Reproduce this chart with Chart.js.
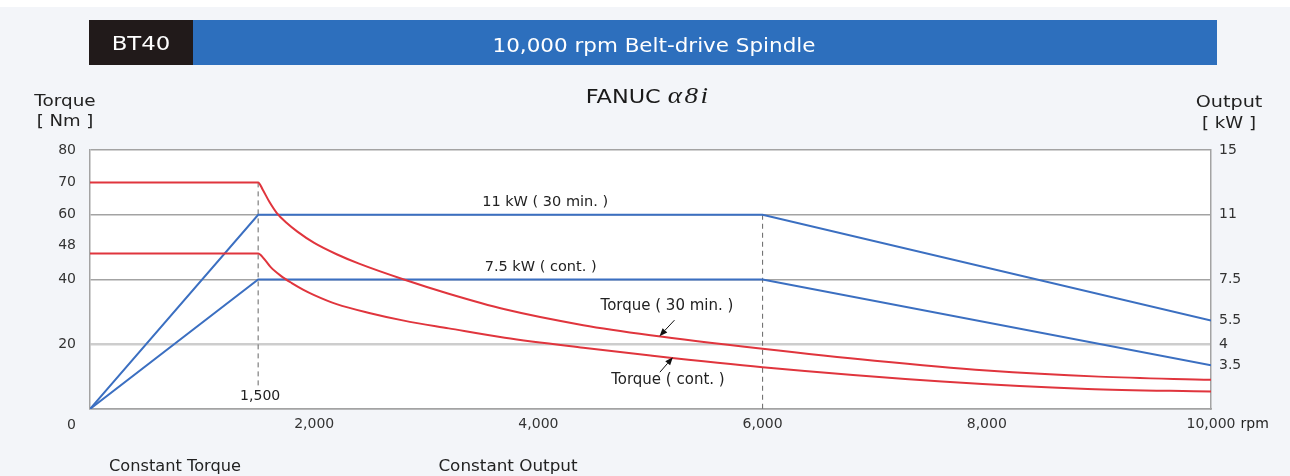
<!DOCTYPE html>
<html lang="en">
<head>
<meta charset="utf-8">
<title>BT40 10,000 rpm Belt-drive Spindle</title>
<script src="https://cdn.jsdelivr.net/npm/chart.js@4.4.1/dist/chart.umd.min.js"></script>
<style>
  html, body { margin:0; padding:0; }
  body { width:1290px; height:476px; background:#f3f5f9; position:relative; overflow:hidden; font-family:'DejaVu Sans', sans-serif; }
  #strip { position:absolute; left:0; top:0; width:1290px; height:7px; background:#ffffff; }
  #cv { position:absolute; left:0; top:0; }
  .box { position:absolute; }
  .t { position:absolute; white-space:nowrap; line-height:1; color:#222; transform-origin:50% 50%; }
  .alpha { font-family:'Liberation Serif', serif; font-style:italic; font-size:23px; letter-spacing:2px; }
</style>
</head>
<body>
<div id="strip"></div>
<div class="box" style="left:89px;top:20px;width:104px;height:45px;background:#211a1a"></div>
<div class="box" style="left:193px;top:20px;width:1024px;height:45px;background:#2d6fbd"></div>
<canvas id="cv" width="1290" height="476"></canvas>

<div class="t" style="left:141px;top:43px;font-size:19px;color:#fff;transform:translate(-50%,-50%) scaleX(1.2)">BT40</div>
<div class="t" style="left:654px;top:45px;font-size:19px;color:#fff;transform:translate(-50%,-50%) scaleX(1.13)">10,000 rpm Belt-drive Spindle</div>
<div class="t" style="left:648px;top:95px;font-size:19px;color:#1a1a1a;transform:translate(-50%,-50%) scaleX(1.18)">FANUC <span class="alpha">α8i</span></div>
<div class="t" style="left:65px;top:101px;font-size:16px;transform:translate(-50%,-50%) scaleX(1.15)">Torque</div>
<div class="t" style="left:65px;top:121px;font-size:16px;transform:translate(-50%,-50%) scaleX(1.13)">[ Nm ]</div>
<div class="t" style="left:1229px;top:102px;font-size:16px;transform:translate(-50%,-50%) scaleX(1.2)">Output</div>
<div class="t" style="left:1229px;top:123px;font-size:16px;transform:translate(-50%,-50%) scaleX(1.13)">[ kW ]</div>
<div class="t" style="left:175px;top:466px;font-size:15px;transform:translate(-50%,-50%) scaleX(1.08)">Constant Torque</div>
<div class="t" style="left:508px;top:466px;font-size:15px;transform:translate(-50%,-50%) scaleX(1.12)">Constant Output</div>

<script>
// ---------------- data ----------------
const rpmTorque30   = [0, 1500, 1540, 1600, 1665, 1750, 1850, 2000, 2200, 2400, 2800, 3200, 3700, 4400, 5000, 6000, 7000, 8000, 9000, 10000];
const torque30      = [70, 70, 67.8, 64.0, 60.6, 57.6, 54.8, 51.3, 47.8, 44.9, 40.0, 35.6, 30.8, 25.9, 22.8, 18.6, 14.9, 11.9, 10.0, 9.0];
const rpmTorqueCont = [0, 1500, 1550, 1610, 1700, 1800, 1900, 2000, 2200, 2500, 2800, 3200, 3700, 4400, 5000, 6000, 7600, 8900, 10000];
const torqueCont    = [48, 48, 46.5, 43.9, 41.2, 38.9, 36.9, 35.2, 32.4, 29.6, 27.3, 24.9, 22.0, 18.9, 16.5, 12.9, 8.5, 6.2, 5.4];
const rpmPower      = [0, 1500, 6000, 10000];
const power30       = [0, 11, 11, 5.5];
const powerCont     = [0, 7.5, 7.5, 3.5];

const xTickValues      = [2000, 4000, 6000, 8000, 10000];
const xTickLabels      = ['2,000', '4,000', '6,000', '8,000', '10,000'];
const xUnit            = 'rpm';
const torqueTickValues = [0, 20, 40, 48, 60, 70, 80];
const torqueTickLabels = ['0', '20', '40', '48', '60', '70', '80'];
const torqueGridValues = [0, 20, 40, 60, 80];
const powerTickValues  = [3.5, 4, 5.5, 7.5, 11, 15];
const powerTickLabels  = ['3.5', '4', '5.5', '7.5', '11', '15'];
// output axis of the original is not linear: kW value -> matching torque grid level
const powerAxisMap     = [[0, 0], [3.5, 13.5], [4, 20], [5.5, 27.3], [7.5, 40], [11, 60], [15, 80]];
const cornerRpm        = [1500, 6000];
const cornerLabel      = '1,500';
const labelPower30     = '11 kW ( 30 min. )';
const labelPowerCont   = '7.5 kW ( cont. )';
const labelTorque30    = 'Torque ( 30 min. )';
const labelTorqueCont  = 'Torque ( cont. )';

// ---------------- style ----------------
const RED = '#e0353d', BLUE = '#3b6fc1', GRID = '#a3a3a3', TXT = '#333333', FONT = "'DejaVu Sans', sans-serif";

// ---------------- piecewise output scale ----------------
function mapPiece(v, from, to) {
  const m = powerAxisMap;
  for (let i = 1; i < m.length; i++) {
    const a = m[i - 1], b = m[i];
    if (v <= b[from] || i === m.length - 1) {
      return a[to] + (v - a[from]) * (b[to] - a[to]) / (b[from] - a[from]);
    }
  }
  return v;
}
class PowerScale extends Chart.LinearScale {
  static id = 'powerScale';
  static defaults = {};
  getPixelForValue(value) {
    if (value === null || value === undefined || isNaN(value)) return NaN;
    const top = powerAxisMap[powerAxisMap.length - 1][1];
    return this.getPixelForDecimal(mapPiece(value, 0, 1) / top);
  }
  getValueForPixel(pixel) {
    const top = powerAxisMap[powerAxisMap.length - 1][1];
    return mapPiece(this.getDecimalForPixel(pixel) * top, 1, 0);
  }
}
Chart.register(PowerScale);

const pts = (xs, ys) => xs.map((x, i) => ({ x: x, y: ys[i] }));

function drawText(ctx, text, x, y, size, align) {
  ctx.save();
  ctx.font = size + 'px ' + FONT;
  ctx.fillStyle = '#222';
  ctx.textAlign = align || 'center';
  ctx.textBaseline = 'middle';
  ctx.fillText(text, x, y);
  ctx.restore();
}
function drawArrow(ctx, x1, y1, x2, y2) {
  ctx.save();
  ctx.strokeStyle = '#111'; ctx.fillStyle = '#111'; ctx.lineWidth = 1;
  const ang = Math.atan2(y2 - y1, x2 - x1), L = 8, W = 3.2;
  const bx = x2 - L * Math.cos(ang), by = y2 - L * Math.sin(ang);
  ctx.beginPath(); ctx.moveTo(x1, y1); ctx.lineTo(bx, by); ctx.stroke();
  ctx.beginPath();
  ctx.moveTo(x2, y2);
  ctx.lineTo(bx + W * Math.sin(ang), by - W * Math.cos(ang));
  ctx.lineTo(bx - W * Math.sin(ang), by + W * Math.cos(ang));
  ctx.closePath(); ctx.fill();
  ctx.restore();
}

const overlay = {
  id: 'overlay',
  beforeDraw(chart) {
    const { ctx, chartArea: a } = chart;
    ctx.save(); ctx.fillStyle = '#ffffff';
    ctx.fillRect(a.left, a.top, a.right - a.left, a.bottom - a.top);
    ctx.restore();
  },
  beforeDatasetsDraw(chart) {
    const { ctx, chartArea: a, scales } = chart;
    ctx.save();
    ctx.strokeStyle = '#666666'; ctx.lineWidth = 1; ctx.setLineDash([5, 4]);
    const x1 = scales.x.getPixelForValue(cornerRpm[0]);
    ctx.beginPath(); ctx.moveTo(x1, scales.y.getPixelForValue(torque30[1])); ctx.lineTo(x1, a.bottom - 21); ctx.stroke();
    const x2 = scales.x.getPixelForValue(cornerRpm[1]);
    ctx.beginPath(); ctx.moveTo(x2, scales.y2.getPixelForValue(power30[2])); ctx.lineTo(x2, a.bottom); ctx.stroke();
    ctx.restore();
  },
  afterDatasetsDraw(chart) {
    const { ctx, chartArea: a, scales } = chart;
    const xs = scales.x, ys = scales.y, ps = scales.y2;
    drawText(ctx, cornerLabel, xs.getPixelForValue(cornerRpm[0]) + 2, a.bottom - 13, 14);
    drawText(ctx, labelPower30, xs.getPixelForValue(4060), ps.getPixelForValue(power30[1]) - 12.5, 14.5);
    drawText(ctx, labelPowerCont, xs.getPixelForValue(4020), ps.getPixelForValue(powerCont[1]) - 12.5, 14.5);
    // Torque (30 min.) callout
    const t1x = xs.getPixelForValue(5080), t1y = ys.getPixelForValue(22.5);
    drawArrow(ctx, t1x + 15, t1y - 16, t1x, t1y);
    drawText(ctx, labelTorque30, t1x + 7.5, t1y - 30, 15);
    // Torque (cont.) callout
    const t2x = xs.getPixelForValue(5200), t2y = ys.getPixelForValue(16.0);
    drawArrow(ctx, t2x - 13, t2y + 15, t2x, t2y);
    drawText(ctx, labelTorqueCont, t2x - 5, t2y + 23, 15);
    // unit after last x tick label
    ctx.save(); ctx.font = '14px ' + FONT;
    const w = ctx.measureText(xTickLabels[xTickLabels.length - 1]).width;
    ctx.restore();
    drawText(ctx, xUnit, xs.getPixelForValue(xTickValues[xTickValues.length - 1]) + w / 2 + 5, a.bottom + 7 + 8.4, 14, 'left');
  }
};

new Chart(document.getElementById('cv'), {
  type: 'line',
  data: {
    datasets: [
      { label: labelTorque30, data: pts(rpmTorque30, torque30), yAxisID: 'y', borderColor: RED, borderWidth: 2, cubicInterpolationMode: 'monotone', fill: false },
      { label: labelTorqueCont, data: pts(rpmTorqueCont, torqueCont), yAxisID: 'y', borderColor: RED, borderWidth: 2, cubicInterpolationMode: 'monotone', fill: false },
      { label: labelPower30, data: pts(rpmPower, power30), yAxisID: 'y2', borderColor: BLUE, borderWidth: 2, tension: 0, fill: false },
      { label: labelPowerCont, data: pts(rpmPower, powerCont), yAxisID: 'y2', borderColor: BLUE, borderWidth: 2, tension: 0, fill: false }
    ]
  },
  options: {
    responsive: false,
    animation: false,
    events: [],
    layout: { padding: { top: 150, left: 0, right: 0, bottom: 0 } },
    elements: { point: { radius: 0 } },
    plugins: { legend: { display: false }, tooltip: { enabled: false }, title: { display: false } },
    scales: {
      x: {
        type: 'linear', min: 0, max: 10000,
        grid: { display: false, drawTicks: false },
        border: { display: true, color: GRID, width: 1.5 },
        afterBuildTicks: s => { s.ticks = xTickValues.map(v => ({ value: v })); },
        afterFit: s => { s.height = 67; },
        ticks: {
          autoSkip: false, maxRotation: 0, padding: 7, color: TXT, font: { family: FONT, size: 14 },
          callback: v => { const i = xTickValues.indexOf(v); return i >= 0 ? xTickLabels[i] : ''; }
        }
      },
      y: {
        type: 'linear', position: 'left', min: 0, max: 80,
        grid: {
          drawTicks: false,
          color: c => (c.tick && torqueGridValues.includes(c.tick.value)) ? (c.tick.value === 20 ? '#cdcdcd' : GRID) : 'rgba(0,0,0,0)',
          lineWidth: c => (c.tick && c.tick.value === 20) ? 2.5 : 1.5
        },
        border: { display: true, color: GRID, width: 1.5 },
        afterBuildTicks: s => { s.ticks = torqueTickValues.map(v => ({ value: v })); },
        afterFit: s => { s.width = 90; },
        ticks: {
          autoSkip: false, padding: 14, color: TXT, font: { family: FONT, size: 14 },
          callback: v => {
            const lab = torqueTickLabels[torqueTickValues.indexOf(v)];
            if (v === 0) return ['', '', lab];
            if (v === 48) return [lab, ''];
            return lab;
          }
        }
      },
      y2: {
        type: 'powerScale', position: 'right', min: 0, max: 15,
        grid: { display: false, drawTicks: false },
        border: { display: true, color: GRID, width: 1.5 },
        afterBuildTicks: s => { s.ticks = powerTickValues.map(v => ({ value: v })); },
        afterFit: s => { s.width = 79; },
        ticks: {
          autoSkip: false, padding: 8, color: TXT, font: { family: FONT, size: 14 },
          callback: v => { const i = powerTickValues.indexOf(v); return i >= 0 ? powerTickLabels[i] : ''; }
        }
      }
    }
  },
  plugins: [overlay]
});
</script>
</body>
</html>
